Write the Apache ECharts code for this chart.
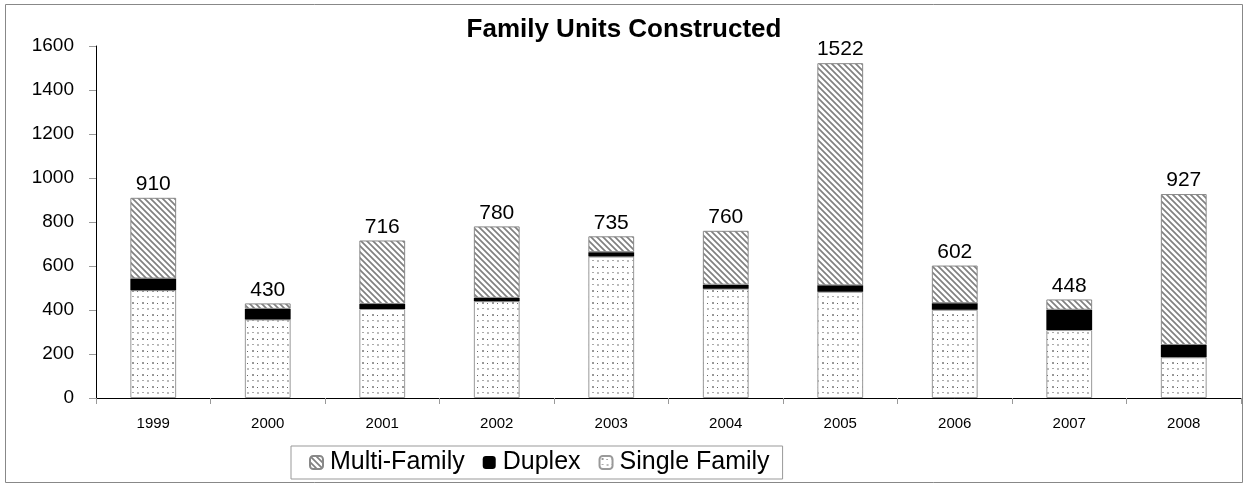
<!DOCTYPE html>
<html>
<head>
<meta charset="utf-8">
<script src="https://cdn.jsdelivr.net/npm/echarts@6/dist/echarts.min.js"></script>
<style>
	html, body { margin: 0; padding: 0; background: #fff; }
	#main { width: 1248px; height: 485px; }
</style>
</head>
<body>
<div id="main"></div>
<script>
	var years = ['1999', '2000', '2001', '2002', '2003', '2004', '2005', '2006', '2007', '2008'];
	var singleFamily = [490, 357, 405, 440, 643, 497, 483, 401, 309, 185];
	var duplex = [53, 48, 22, 15, 20, 18, 29, 30, 92, 56];
	var multiFamily = [367, 25, 289, 325, 72, 245, 1010, 171, 47, 686];
	var totals = [910, 430, 716, 780, 735, 760, 1522, 602, 448, 927];
	var yTicks = [0, 200, 400, 600, 800, 1000, 1200, 1400, 1600];

	// 斜线填充
	function stripePattern() {
		var c = document.createElement('canvas');
		c.width = 6;
		c.height = 6;
		var ctx = c.getContext('2d');
		ctx.fillStyle = '#fff';
		ctx.fillRect(0, 0, 6, 6);
		ctx.strokeStyle = '#808080';
		ctx.lineWidth = 1.7;
		ctx.beginPath();
		ctx.moveTo(-3, 3); ctx.lineTo(3, 9);
		ctx.moveTo(0, 0); ctx.lineTo(6, 6);
		ctx.moveTo(3, -3); ctx.lineTo(9, 3);
		ctx.stroke();
		return c;
	}
	// 点状填充
	function dotPattern() {
		var c = document.createElement('canvas');
		c.width = 10;
		c.height = 12;
		var ctx = c.getContext('2d');
		ctx.fillStyle = '#fff';
		ctx.fillRect(0, 0, 10, 12);
		ctx.fillStyle = '#999';
		ctx.fillRect(2, 2, 2, 2);
		ctx.fillStyle = '#bbb';
		ctx.fillRect(7, 8, 2, 2);
		ctx.fillStyle = '#666';
		ctx.fillRect(7, 3, 1, 1);
		ctx.fillStyle = '#aaa';
		ctx.fillRect(2, 8, 2, 1);
		return c;
	}

	var myChart = echarts.init(document.getElementById('main'));
	var font = 'Arial, "Liberation Sans", sans-serif';

	var option = {
		backgroundColor: '#fff',
		animation: false,
		title: {
			text: 'Family Units Constructed',
			left: 'center',
			top: 12,
			textStyle: {
				fontFamily: font,
				fontWeight: 'bold',
				fontSize: 26,
				color: '#000'
			}
		},
		legend: {
			left: 291,
			bottom: 6,
			itemWidth: 13,
			itemHeight: 13,
			itemGap: 18,
			padding: [4, 13, 4, 18],
			borderColor: '#999',
			borderWidth: 1,
			borderRadius: 0,
			data: ['Multi-Family', 'Duplex', 'Single Family'],
			textStyle: {
				fontFamily: font,
				fontSize: 25,
				color: '#000',
				padding: [0, 0, 0, 2]
			}
		},
		graphic: [{
			type: 'rect',
			shape: { x: 5.5, y: 4.5, width: 1237, height: 478 },
			style: { fill: 'none', stroke: '#888', lineWidth: 1 },
			z: -1
		}],
		grid: {
			left: 96,
			right: 7,
			top: 46,
			bottom: 87
		},
		xAxis: {
			type: 'category',
			data: years,
			axisLine: { lineStyle: { color: '#000', width: 1 } },
			axisTick: { show: true, length: 6, lineStyle: { color: '#999' } },
			axisLabel: {
				fontFamily: font,
				fontSize: 15,
				color: '#000',
				margin: 18
			}
		},
		yAxis: {
			type: 'value',
			min: yTicks[0],
			max: yTicks[yTicks.length - 1],
			interval: 200,
			splitLine: { show: false },
			axisLine: { show: true, lineStyle: { color: '#000', width: 1 } },
			axisTick: { show: true, length: 7, lineStyle: { color: '#999' } },
			axisLabel: {
				fontFamily: font,
				fontSize: 19,
				color: '#000',
				margin: 22,
				formatter: function(val) {
					return val + '';
				}
			}
		},
		series: [{
			name: 'Single Family',
			type: 'bar',
			stack: 'units',
			barWidth: '40%',
			data: singleFamily,
			itemStyle: {
				color: { image: dotPattern(), repeat: 'repeat' },
				borderColor: '#999',
				borderWidth: 1
			}
		}, {
			name: 'Duplex',
			type: 'bar',
			stack: 'units',
			data: duplex,
			itemStyle: {
				color: '#000',
				borderColor: '#000',
				borderWidth: 0
			}
		}, {
			name: 'Multi-Family',
			type: 'bar',
			stack: 'units',
			data: multiFamily,
			itemStyle: {
				color: { image: stripePattern(), repeat: 'repeat' },
				borderColor: '#888',
				borderWidth: 1
			},
			label: {
				show: true,
				position: 'top',
				distance: 3,
				fontFamily: font,
				fontSize: 21,
				color: '#000',
				formatter: function(p) {
					return totals[p.dataIndex];
				}
			}
		}]
	};
	myChart.setOption(option);
</script>
</body>
</html>
